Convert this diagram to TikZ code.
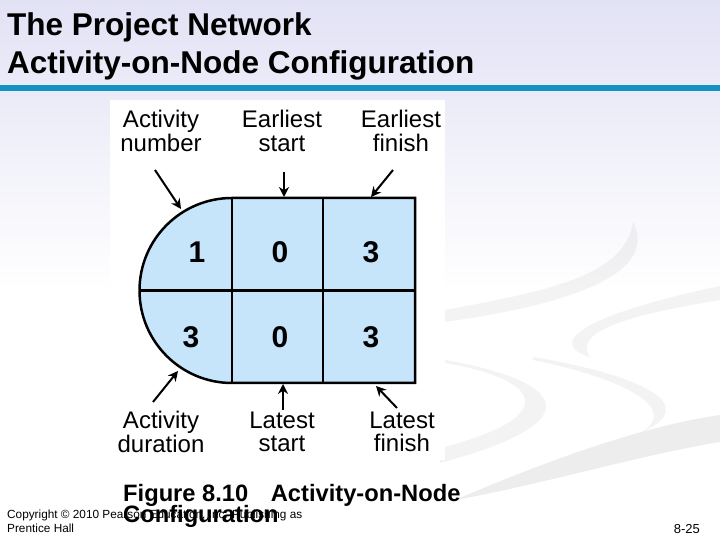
\documentclass[tikz,border=0pt]{standalone}
\usepackage{fontspec}
\setmainfont{Liberation Sans}
\usetikzlibrary{arrows.meta}

\definecolor{slidelav}{RGB}{226,226,245}
\definecolor{ruleblue}{RGB}{22,146,194}
\definecolor{cellblue}{RGB}{198,229,250}

\tikzset{
  lbl/.style={align=center, inner sep=0pt, font=\fontsize{24}{23.5}\selectfont},
  digit/.style={inner sep=0pt, font=\fontsize{30}{30}\selectfont\bfseries},
  pointer/.style={line width=2pt, -{Stealth[length=10pt,width=10pt]}},
  swoosh/.style={fill=gray, fill opacity=0.09, draw=none},
  titletext/.style={anchor=base west, inner sep=0pt, font=\fontsize{31.5}{38}\selectfont\bfseries},
  captext/.style={anchor=base west, inner sep=0pt, font=\fontsize{23.7}{22}\selectfont\bfseries},
  smalltext/.style={anchor=base west, inner sep=0pt, font=\fontsize{11.8}{14}\selectfont}
}

\begin{document}
\begin{tikzpicture}[x=1pt, y=1pt]
    \useasboundingbox (0,0) rectangle (720,540);

    % background
    \fill[white] (0,0) rectangle (720,540);
    \shade[top color=slidelav, bottom color=white] (0,250) rectangle (720,540);
    \fill[swoosh] (445,230) .. controls (540,248) and (625,262) .. (633,318)
        .. controls (655,275) and (600,240) .. (445,218) -- cycle;
    \fill[swoosh] (590,183) .. controls (550,195) and (570,222) .. (720,254)
        -- (720,240) .. controls (610,222) and (575,205) .. (590,183) -- cycle;
    \fill[swoosh] (445,180) .. controls (560,160) and (600,120) .. (440,77)
        -- (440,92) .. controls (560,122) and (545,160) .. (445,177) -- cycle;
    \fill[swoosh] (533,183) .. controls (640,165) and (705,135) .. (640,107)
        .. controls (680,130) and (630,160) .. (533,180) -- cycle;
    \fill[swoosh, fill opacity=0.14] (455,40) .. controls (560,85) and (650,115) .. (720,125)
        -- (720,98) .. controls (640,85) and (540,55) .. (455,40) -- cycle;
    \fill[white] (110,80) rectangle (445,440);

    % title
    \fill[ruleblue] (0,449) rectangle (720,455);
    \node[titletext] (title1) at (7,504.3) {The Project Network};
    \node[titletext] (title2) at (7,466.7) {Activity-on-Node Configuration};

    % activity box
    \filldraw[fill=cellblue, line width=2.5pt] (232,342) -- (415,342) -- (415,157) -- (232,157)
        arc[start angle=270, end angle=90, radius=92.5] -- cycle;
    \draw[line width=2.5pt] (140,249.5) -- (415,249.5);
    \draw[line width=2.5pt] (232,342) -- (232,157);
    \draw[line width=2.5pt] (323,342) -- (323,157);

    % numbers
    \node[digit] (num) at (197,288) {1};
    \node[digit] (es) at (280,288) {0};
    \node[digit] (ef) at (371,288) {3};
    \node[digit] (dur) at (191,203) {3};
    \node[digit] (ls) at (280,203) {0};
    \node[digit] (lf) at (371,203) {3};

    % labels
    \node[lbl] (numlbl) at (161,409) {Activity\\number};
    \node[lbl] (eslbl) at (282,409) {Earliest\\start};
    \node[lbl] (eflbl) at (401,409) {Earliest\\finish};
    \node[lbl] (durlbl) at (161,108) {Activity\\duration};
    \node[lbl] (lslbl) at (282,108) {Latest\\start};
    \node[lbl] (lflbl) at (402,108) {Latest\\finish};

    % pointers
    \coordinate (numtail) at (155,370);
    \coordinate (numhead) at (181,331);
    \coordinate (estail) at (284,368);
    \coordinate (eshead) at (284,343);
    \coordinate (eftail) at (393,370);
    \coordinate (efhead) at (371,343);
    \coordinate (durtail) at (153,138);
    \coordinate (durhead) at (178,169);
    \coordinate (lstail) at (283,130);
    \coordinate (lshead) at (283,156);
    \coordinate (lftail) at (397,132);
    \coordinate (lfhead) at (376,154);
    \draw[pointer] (numtail) -- (numhead);
    \draw[pointer] (estail) -- (eshead);
    \draw[pointer] (eftail) -- (efhead);
    \draw[pointer] (durtail) -- (durhead);
    \draw[pointer] (lstail) -- (lshead);
    \draw[pointer] (lftail) -- (lfhead);

    % footer
    \node[smalltext] (copy1) at (7,21) {Copyright \textcopyright{} 2010 Pearson Education, Inc. Publishing as};
    \node[smalltext] (copy2) at (7,7) {Prentice Hall};
    \node[captext] (cap1) at (123,38.3) {Figure 8.10\hspace{0.95em}Activity-on-Node};
    \node[captext] (cap2) at (123,17) {Configuration};
    \node[anchor=base east, inner sep=0pt, font=\fontsize{13}{15}\selectfont] (page) at (700,6) {8-25};
\end{tikzpicture}
\end{document}
